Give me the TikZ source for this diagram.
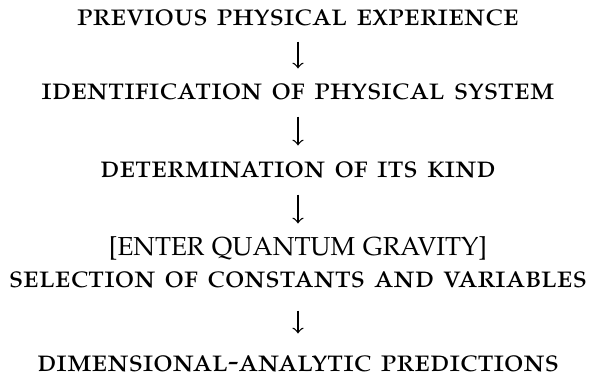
\documentclass[tikz,border=0pt]{standalone}
\usepackage[T1]{fontenc}
\usepackage[sc]{mathpazo}
\tikzset{stage/.style={font=\fontsize{10}{12}\selectfont\scshape, inner sep=0pt, text height=5pt, text depth=0pt},
  bracketed/.style={font=\fontsize{8.2}{10}\selectfont}}
\begin{document}
\begin{tikzpicture}[x=0.315pt,y=-0.315pt]
\useasboundingbox (0,0) rectangle (590,378);
\node[stage] (exp) at (298,18) {previous physical experience};
\node[stage] (ident) at (298,92) {identification of physical system};
\node[stage] (kind) at (298,170) {determination of its kind};
\node[stage,bracketed] (qg) at (298,248) {[ENTER QUANTUM GRAVITY]};
\node[stage] (sel) at (298,280) {selection of constants and variables};
\node[stage] (pred) at (298,364) {dimensional-analytic predictions};
% the arrows between the stages
\foreach \a/\b/\s in {exp/ident/15,ident/kind/16,kind/qg/16,sel/pred/22}
\draw[-to,shorten <=\s*0.315pt,shorten >=\s*0.315pt] (\a) -- (\b);
\end{tikzpicture}
\end{document}
